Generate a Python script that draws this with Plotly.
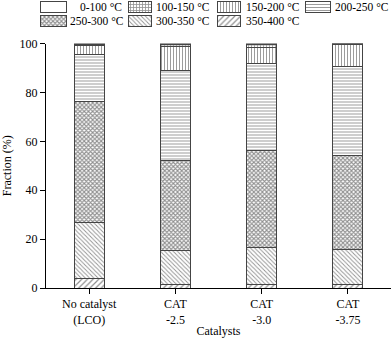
import plotly.graph_objects as go

# ----- Data -----
catalysts = ["No catalyst<br>(LCO)", "CAT<br>-2.5", "CAT<br>-3.0", "CAT<br>-3.75"]

# bottom -> top of each stacked bar
frac_350_400 = [3.8, 1.5, 1.5, 1.5]
frac_300_350 = [23.0, 13.9, 15.0, 14.2]
frac_250_300 = [49.3, 36.9, 39.6, 38.3]
frac_200_250 = [19.6, 36.5, 35.7, 36.5]
frac_150_200 = [3.5, 10.0, 6.5, 9.0]
frac_100_150 = [0.5, 0.8, 1.2, 0.3]
frac_0_100 = [0.3, 0.4, 0.5, 0.2]

FONT = "Liberation Serif, Times New Roman, serif"
EDGE = "#444444"

# (name, values, pattern shape, pattern size, solidity) -- stacking order
series = [
    ("350-400 °C", frac_350_400, "/", 4, 0.3),
    ("300-350 °C", frac_300_350, "\\", 3, 0.3),
    ("250-300 °C", frac_250_300, "x", 3, 0.6),
    ("200-250 °C", frac_200_250, "-", 3, 0.3),
    ("150-200 °C", frac_150_200, "|", 3, 0.3),
    ("100-150 °C", frac_100_150, "+", 3, 0.45),
    ("0-100 °C", frac_0_100, "", 4, 0.3),
]

# legend layout (page pixels): box start, box width, row centre, text x, text anchor
legend_pos = {
    "0-100 °C": (40, 26, 6.7, 124, "right"),
    "100-150 °C": (128, 23, 6.7, 154, "left"),
    "150-200 °C": (217, 23, 6.7, 244, "left"),
    "200-250 °C": (305, 25, 6.7, 333, "left"),
    "250-300 °C": (40, 26, 21.2, 68, "left"),
    "300-350 °C": (128, 23, 21.2, 154, "left"),
    "350-400 °C": (217, 23, 21.2, 244, "left"),
}


def pattern(shape, size, sol):
    return dict(shape=shape, size=size, solidity=sol,
                fgcolor="#222222", bgcolor="white", fillmode="overlay")


fig = go.Figure()
for name, vals, shape, size, sol in series:
    fig.add_trace(go.Bar(
        x=catalysts, y=vals, name=name, width=0.35, showlegend=False,
        marker=dict(color="white", line=dict(color=EDGE, width=1),
                    pattern=pattern(shape, size, sol)),
    ))

# hand-made legend with wide patterned boxes, as in the original figure
annotations = []
for name, vals, shape, size, sol in series:
    x0, w, yc, tx, anchor = legend_pos[name]
    fig.add_trace(go.Bar(
        x=[w], y=[yc], base=[x0], orientation="h", width=11,
        xaxis="x2", yaxis="y2", showlegend=False, hoverinfo="skip",
        marker=dict(color="white", line=dict(color=EDGE, width=1),
                    pattern=pattern(shape, size, sol)),
    ))
    annotations.append(dict(
        x=tx, y=yc, xref="x2", yref="y2", text=name, showarrow=False,
        xanchor=anchor, yanchor="middle", font=dict(family=FONT, size=11.5),
    ))

fig.update_layout(
    barmode="stack",
    width=392, height=339,
    margin=dict(l=36, r=1, t=0, b=51, autoexpand=False),
    paper_bgcolor="white", plot_bgcolor="white",
    font=dict(family=FONT, size=12, color="black"),
    annotations=annotations,
    xaxis=dict(
        domain=[10 / 355, 1],
        title=dict(text="Catalysts", font=dict(size=12), standoff=0),
        showline=True, linecolor="black", linewidth=1,
        ticks="outside", ticklen=5, tickcolor="black",
        showgrid=False, range=[-0.5, 3.5], automargin=False,
    ),
    yaxis=dict(
        domain=[0, 244.5 / 288],
        title=dict(text="Fraction (%)", font=dict(size=12), standoff=6),
        range=[0, 100], dtick=20,
        showline=True, linecolor="black", linewidth=1,
        ticks="outside", ticklen=5, tickcolor="black",
        showgrid=False, zeroline=False, automargin=False,
    ),
    xaxis2=dict(domain=[0, 1], range=[36, 391], visible=False, fixedrange=True),
    yaxis2=dict(domain=[0.9, 1], range=[28.8, 0], visible=False, fixedrange=True),
)

# drop the browser's default 8px body margin so the figure sits at the page corner
fig.write_html("out.html", config={"displayModeBar": False},
               post_script="document.body.style.margin='0';")
